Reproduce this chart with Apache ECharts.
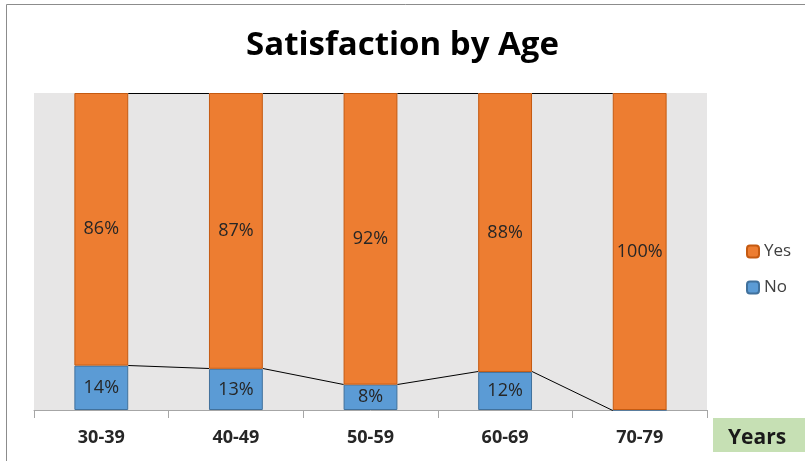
<!DOCTYPE html>
<html>
<head>
<meta charset="utf-8">
<script src="https://cdn.jsdelivr.net/npm/echarts@6/dist/echarts.min.js"></script>
<style>
  html, body { margin: 0; padding: 0; background: #fff; }
  #chart { width: 805px; height: 461px; }
</style>
</head>
<body>
<div id="chart"></div>
<script>
// Age bands and satisfaction shares (percent)
const categories = ['30-39', '40-49', '50-59', '60-69', '70-79'];
const noValues = [14, 13, 8, 12, 0];
const yesValues = [86, 87, 92, 88, 100];

const FONT = '"Open Sans", "Noto Sans", sans-serif';
const BAR_RATIO = 0.4;

// running totals for the series lines joining the stacked segments
const noTop = noValues.slice();
const yesTop = yesValues.map((v, i) => v + noValues[i]);

// snap a 1px line onto a pixel row so it renders crisp
const crisp = y => Math.floor(y) + 0.5;

function seriesLine(tops) {
  return {
    type: 'custom',
    silent: true,
    z: 5,
    data: tops.map((v, i) => [i, v]),
    renderItem: function (params, api) {
      const i = api.value(0);
      if (i >= tops.length - 1) return null;
      const half = api.size([1, 0])[0] * BAR_RATIO / 2;
      const a = api.coord([i, tops[i]]);
      const b = api.coord([i + 1, tops[i + 1]]);
      return {
        type: 'line',
        shape: { x1: a[0] + half, y1: crisp(a[1]), x2: b[0] - half, y2: crisp(b[1]) },
        style: { stroke: '#000', lineWidth: 1 }
      };
    }
  };
}

const chart = echarts.init(document.getElementById('chart'));
chart.setOption({
  animation: false,
  title: {
    text: 'Satisfaction by Age',
    left: 'center',
    top: 24,
    textStyle: { fontFamily: FONT, fontSize: 33, fontWeight: 'bold', color: '#000' }
  },
  legend: {
    orient: 'vertical',
    left: 741,
    top: 238,
    itemWidth: 12,
    itemHeight: 12,
    itemGap: 19,
    data: ['Yes', 'No'],
    textStyle: { fontFamily: FONT, fontSize: 17, color: '#404040' }
  },
  grid: {
    left: 34, right: 98, top: 93, bottom: 51,
    show: true, backgroundColor: '#E7E6E6', borderWidth: 0
  },
  xAxis: {
    type: 'category',
    data: categories,
    axisLine: { lineStyle: { color: '#A6A6A6' } },
    axisTick: { show: true, length: 8, lineStyle: { color: '#A6A6A6' } },
    axisLabel: { margin: 19, fontFamily: FONT, fontSize: 18, fontWeight: 'bold', color: '#262626' }
  },
  yAxis: {
    type: 'value', min: 0, max: 100, show: false
  },
  series: [
    {
      name: 'No', type: 'bar', stack: 'total', barWidth: (BAR_RATIO * 100) + '%',
      data: noValues,
      itemStyle: { color: '#5B9BD5', borderColor: '#41719C', borderWidth: 1 },
      label: {
        show: true, position: 'inside', fontFamily: FONT, fontSize: 18, color: '#262626',
        formatter: p => p.value > 0 ? p.value + '%' : ''
      }
    },
    {
      name: 'Yes', type: 'bar', stack: 'total',
      data: yesValues,
      itemStyle: { color: '#ED7D31', borderColor: '#C55A11', borderWidth: 1 },
      label: {
        show: true, position: 'inside', fontFamily: FONT, fontSize: 18, color: '#262626',
        formatter: p => p.value + '%'
      }
    },
    seriesLine(noTop),
    seriesLine(yesTop)
  ],
  graphic: [
    {
      type: 'polyline',
      shape: { points: [[6.5, 461], [6.5, 4.5], [805, 4.5]] },
      style: { stroke: '#8C8C8C', fill: null, lineWidth: 1 }
    },
    {
      type: 'rect',
      shape: { x: 713, y: 418, width: 92, height: 34 },
      style: { fill: '#C6E0B4' }
    },
    {
      type: 'text',
      left: 728, top: 428,
      style: { text: 'Years', fontFamily: FONT, fontSize: 21, fontWeight: 'bold', fill: '#1a1a1a' }
    }
  ]
});
</script>
</body>
</html>
